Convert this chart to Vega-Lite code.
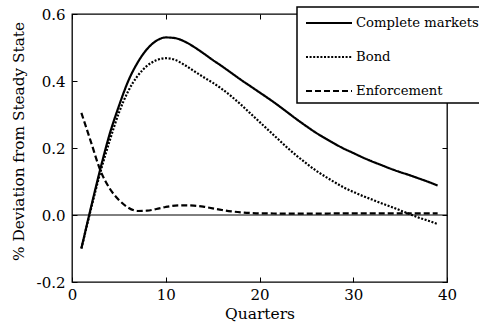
{
  "$schema": "https://vega.github.io/schema/vega-lite/v6.json",
  "width": 375,
  "height": 268,
  "autosize": "none",
  "padding": {"left": 72, "top": 14, "right": 32, "bottom": 50},
  "background": "white",
  "config": {
    "font": "DejaVu Serif",
    "view": {"stroke": "black", "strokeWidth": 1.3},
    "axis": {
      "grid": false,
      "domain": false,
      "tickSize": -5,
      "tickColor": "black",
      "tickWidth": 1,
      "labelFont": "DejaVu Serif",
      "labelFontSize": 15,
      "labelColor": "black",
      "titleFont": "DejaVu Serif",
      "titleFontSize": 15.5,
      "titleFontWeight": "normal",
      "titleColor": "black"
    }
  },
  "data": {
    "values": [
      {"q": 1, "Complete markets": -0.1, "Bond": -0.1, "Enforcement": 0.305},
      {"q": 2, "Complete markets": 0.02, "Bond": 0.015, "Enforcement": 0.22},
      {"q": 3, "Complete markets": 0.135, "Bond": 0.125, "Enforcement": 0.135},
      {"q": 4, "Complete markets": 0.24, "Bond": 0.22, "Enforcement": 0.08},
      {"q": 5, "Complete markets": 0.325, "Bond": 0.305, "Enforcement": 0.045},
      {"q": 6, "Complete markets": 0.4, "Bond": 0.37, "Enforcement": 0.022},
      {"q": 7, "Complete markets": 0.455, "Bond": 0.415, "Enforcement": 0.012},
      {"q": 8, "Complete markets": 0.495, "Bond": 0.445, "Enforcement": 0.013},
      {"q": 9, "Complete markets": 0.52, "Bond": 0.462, "Enforcement": 0.018},
      {"q": 10, "Complete markets": 0.53, "Bond": 0.468, "Enforcement": 0.024},
      {"q": 11, "Complete markets": 0.528, "Bond": 0.463, "Enforcement": 0.028},
      {"q": 12, "Complete markets": 0.518, "Bond": 0.448, "Enforcement": 0.029},
      {"q": 13, "Complete markets": 0.502, "Bond": 0.43, "Enforcement": 0.028},
      {"q": 14, "Complete markets": 0.483, "Bond": 0.412, "Enforcement": 0.025},
      {"q": 15, "Complete markets": 0.463, "Bond": 0.395, "Enforcement": 0.02},
      {"q": 16, "Complete markets": 0.444, "Bond": 0.376, "Enforcement": 0.015},
      {"q": 17, "Complete markets": 0.424, "Bond": 0.354, "Enforcement": 0.011},
      {"q": 18, "Complete markets": 0.404, "Bond": 0.33, "Enforcement": 0.008},
      {"q": 19, "Complete markets": 0.385, "Bond": 0.304, "Enforcement": 0.006},
      {"q": 20, "Complete markets": 0.366, "Bond": 0.278, "Enforcement": 0.005},
      {"q": 21, "Complete markets": 0.347, "Bond": 0.252, "Enforcement": 0.005},
      {"q": 22, "Complete markets": 0.327, "Bond": 0.226, "Enforcement": 0.004},
      {"q": 23, "Complete markets": 0.306, "Bond": 0.2, "Enforcement": 0.004},
      {"q": 24, "Complete markets": 0.285, "Bond": 0.176, "Enforcement": 0.004},
      {"q": 25, "Complete markets": 0.265, "Bond": 0.154, "Enforcement": 0.004},
      {"q": 26, "Complete markets": 0.246, "Bond": 0.133, "Enforcement": 0.004},
      {"q": 27, "Complete markets": 0.229, "Bond": 0.115, "Enforcement": 0.004},
      {"q": 28, "Complete markets": 0.213, "Bond": 0.098, "Enforcement": 0.005},
      {"q": 29, "Complete markets": 0.198, "Bond": 0.082, "Enforcement": 0.005},
      {"q": 30, "Complete markets": 0.185, "Bond": 0.069, "Enforcement": 0.005},
      {"q": 31, "Complete markets": 0.172, "Bond": 0.057, "Enforcement": 0.005},
      {"q": 32, "Complete markets": 0.16, "Bond": 0.046, "Enforcement": 0.005},
      {"q": 33, "Complete markets": 0.149, "Bond": 0.035, "Enforcement": 0.005},
      {"q": 34, "Complete markets": 0.138, "Bond": 0.025, "Enforcement": 0.005},
      {"q": 35, "Complete markets": 0.128, "Bond": 0.014, "Enforcement": 0.005},
      {"q": 36, "Complete markets": 0.119, "Bond": 0.003, "Enforcement": 0.005},
      {"q": 37, "Complete markets": 0.109, "Bond": -0.008, "Enforcement": 0.005},
      {"q": 38, "Complete markets": 0.099, "Bond": -0.017, "Enforcement": 0.005},
      {"q": 39, "Complete markets": 0.088, "Bond": -0.027, "Enforcement": 0.005}
    ]
  },
  "resolve": {"axis": {"x": "independent", "y": "independent"}},
  "layer": [
    {
      "transform": [
        {"fold": ["Complete markets", "Bond", "Enforcement"], "as": ["series", "v"]}
      ],
      "mark": {"type": "line", "color": "black", "strokeWidth": 2.2, "interpolate": "monotone"},
      "encoding": {
        "x": {
          "field": "q",
          "type": "quantitative",
          "scale": {"domain": [0, 40], "nice": false, "zero": false},
          "axis": {"orient": "bottom", "values": [0, 10, 20, 30, 40], "labelPadding": 10, "title": "Quarters", "titlePadding": 4, "labelFlush": false}
        },
        "y": {
          "field": "v",
          "type": "quantitative",
          "scale": {"domain": [-0.2, 0.6], "nice": false, "zero": false},
          "axis": {
            "orient": "left",
            "values": [-0.2, 0, 0.2, 0.4, 0.6],
            "labelExpr": "replace(format(datum.value, '.1f'), '\u2212', '-')",
            "labelPadding": 12,
            "labelFlush": false,
            "title": "% Deviation from Steady State",
            "titleFontSize": 15.3,
            "titleAngle": 270,
            "titleX": -54,
            "titleY": 127,
            "titleAlign": "center",
            "titleBaseline": "middle"
          }
        },
        "strokeDash": {
          "field": "series",
          "type": "nominal",
          "scale": {
            "domain": ["Complete markets", "Bond", "Enforcement"],
            "range": [[1, 0], [2, 1.6], [6, 3]]
          },
          "legend": {
            "orient": "none",
            "legendX": 225,
            "legendY": -7,
            "title": null,
            "strokeColor": "black",
            "fillColor": "white",
            "padding": 5,
            "cornerRadius": 0,
            "symbolType": "M-0.7,0H3.9",
            "symbolSize": 400,
            "symbolStrokeWidth": 2,
            "symbolStrokeColor": "black",
            "labelFont": "DejaVu Serif",
            "labelFontSize": 13.2,
            "labelColor": "black",
            "labelLimit": 0,
            "labelOffset": 32,
            "rowPadding": 16,
            "encode": {"legend": {"update": {"strokeWidth": {"value": 1.5}}}}
          }
        }
      }
    },
    {
      "data": {"values": [{}]},
      "mark": {"type": "rule", "color": "black", "strokeWidth": 1},
      "encoding": {
        "x": {"datum": 0, "type": "quantitative", "axis": {"orient": "top", "values": [0, 10, 20, 30, 40], "labels": false, "title": null}},
        "x2": {"datum": 40},
        "y": {"datum": 0, "type": "quantitative", "axis": {"orient": "right", "values": [-0.2, 0, 0.2, 0.4, 0.6], "labels": false, "title": null}}
      }
    }
  ]
}
